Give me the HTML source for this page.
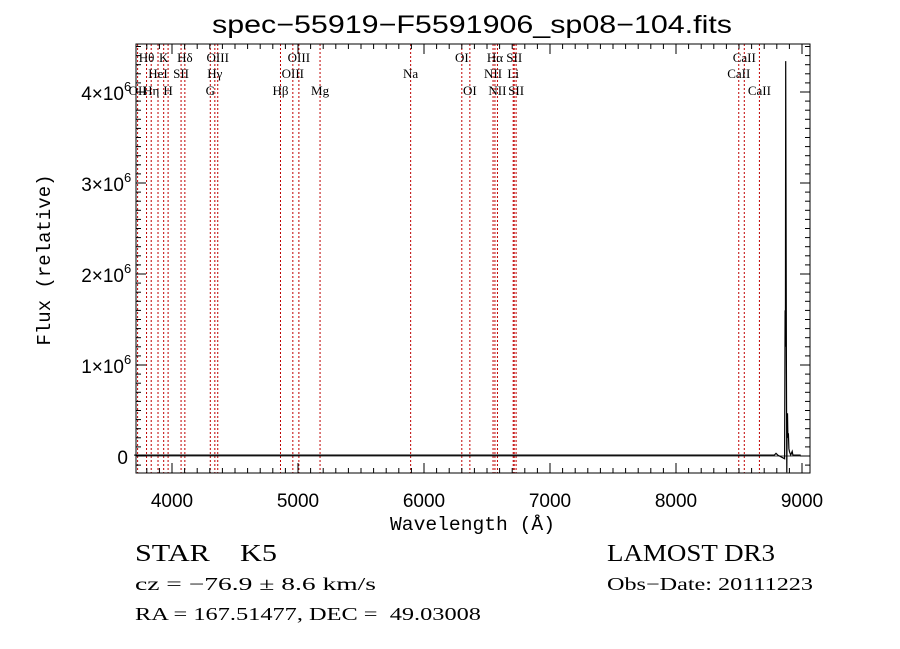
<!DOCTYPE html>
<html><head><meta charset="utf-8"><style>
body{margin:0;background:#fff;}
svg{display:block;}
</style></head><body>
<svg id="chart" width="900" height="649" xmlns="http://www.w3.org/2000/svg">
<rect width="900" height="649" fill="#fff"/>
<text x="212" y="33" textLength="520" lengthAdjust="spacingAndGlyphs" font-family="Liberation Sans, sans-serif" font-size="25">spec−55919−F5591906_sp08−104.fits</text>
<g id="lines"></g>
<g id="axes"></g>
<path id="spec" fill="none" stroke="#000" stroke-width="1.2"/>
<text x="390" y="530" textLength="165" lengthAdjust="spacingAndGlyphs" font-family="Liberation Mono, monospace" font-size="19">Wavelength (Å)</text>
<text transform="translate(50,260) rotate(-90)" font-family="Liberation Mono, monospace" font-size="19" text-anchor="middle">Flux (relative)</text>
<text x="135" y="561" textLength="142" lengthAdjust="spacingAndGlyphs" font-family="Liberation Serif, serif" font-size="24" xml:space="preserve">STAR    K5</text>
<text x="607" y="561" textLength="168" lengthAdjust="spacingAndGlyphs" font-family="Liberation Serif, serif" font-size="24">LAMOST DR3</text>
<text x="135" y="590" textLength="241" lengthAdjust="spacingAndGlyphs" font-family="Liberation Serif, serif" font-size="18" xml:space="preserve">cz = −76.9 ± 8.6 km/s</text>
<text x="607" y="590" textLength="206" lengthAdjust="spacingAndGlyphs" font-family="Liberation Serif, serif" font-size="18">Obs−Date: 20111223</text>
<text x="135" y="620" textLength="346" lengthAdjust="spacingAndGlyphs" font-family="Liberation Serif, serif" font-size="18" xml:space="preserve">RA = 167.51477, DEC =  49.03008</text>
</svg>
<script>
const waves=[3700,3800,4500,5500,6500,7500,8300,8780,8794,8808,8862,8866,8868,8871,8873,8876,8879,8882,8885,8888,8892,8896,8900,8910,8922,8928,8940,8990];
const fluxes=[0.01e6,0.01e6,0.01e6,0.01e6,0.01e6,0.01e6,0.01e6,0.01e6,0.03e6,0.01e6,-0.03e6,1.6e6,1.2e6,4.34e6,3.0e6,1.0e6,-0.18e6,0.3e6,0.47e6,0.2e6,0.25e6,0.08e6,0.05e6,0.01e6,0.05e6,0.01e6,0.01e6,0.01e6];
const xTicks=[4000,5000,6000,7000,8000,9000];
const yTicks=[0,1e6,2e6,3e6,4e6];
const yTickLabels=["0","1×10","2×10","3×10","4×10"];
const lineWaves=[3727,3798,3835,3889,3934,3969,4072,4102,4304,4340,4363,4861,4959,5007,5175,5894,6300,6364,6548,6563,6583,6708,6716,6731,8498,8542,8662];
const lineLabels=[
 ["OII",3727,2],["Hθ",3798,0],["Hη",3835,2],["HeI",3889,1],["K",3934,0],["H",3969,2],["SII",4072,1],["Hδ",4102,0],
 ["G",4304,2],["Hγ",4340,1],["OIII",4363,0],["Hβ",4861,2],["OIII",4959,1],["OIII",5007,0],["Mg",5175,2],["Na",5894,1],
 ["OI",6300,0],["OI",6364,2],["NII",6548,1],["Hα",6563,0],["NII",6583,2],["Li",6708,1],["SII",6716,0],["SII",6731,2],
 ["CaII",8498,1],["CaII",8542,0],["CaII",8662,2]];
const L=136,R=810,T=44,B=473;
const X=w=>172+(w-4000)*0.126;
const Y=f=>456-f/1e6*91;
const NS="http://www.w3.org/2000/svg";
function mk(tag,attrs,parent){const e=document.createElementNS(NS,tag);for(const k in attrs)e.setAttribute(k,attrs[k]);parent.appendChild(e);return e;}
const lines=document.getElementById('lines');
lineWaves.forEach(w=>{
 const l=mk('line',{x1:X(w),x2:X(w),y1:T,y2:B,stroke:'#c00000','stroke-width':1,'stroke-dasharray':'2,2'},lines);
 
 
});
const rowY=[62,78,95];
lineLabels.forEach(([t,w,r])=>{
 const e=mk('text',{x:X(w),y:rowY[r],'font-family':'Liberation Serif, serif','font-size':13,'text-anchor':'middle'},lines);
 e.textContent=t;
 
 
});
const ax=document.getElementById('axes');
const fr=mk('rect',{x:L,y:T,width:R-L,height:B-T,fill:'none',stroke:'#000','stroke-width':1},ax);


for(let w=3800;w<=9000;w+=100){
 const big=w%1000===0;const len=big?10:5;
 mk('line',{x1:X(w),x2:X(w),y1:B,y2:B-len,stroke:'#000'},ax);
 mk('line',{x1:X(w),x2:X(w),y1:T,y2:T+len,stroke:'#000'},ax);
}
xTicks.forEach(w=>{
 const e=mk('text',{x:X(w),y:B+34,'font-family':'Liberation Sans, sans-serif','font-size':19,'text-anchor':'middle'},ax);
 e.textContent=w;
 
 
});
for(let i=-1;i<=45;i++){
 const f=i*1e5;const y=Y(f);if(y<T||y>B)continue;
 const len=i%10===0?10:5;
 mk('line',{x1:L,x2:L+len,y1:y,y2:y,stroke:'#000'},ax);
 mk('line',{x1:R,x2:R-len,y1:y,y2:y,stroke:'#000'},ax);
}
yTicks.forEach((f,i)=>{
 const e=mk('text',{x:f===0?128:(L-12),y:Y(f)+8,'font-family':'Liberation Sans, sans-serif','font-size':19,'text-anchor':'end'},ax);
 e.textContent=yTickLabels[i];
 
 
 if(f!==0){
  const s=mk('text',{x:L-12,y:Y(f)-1,'font-family':'Liberation Sans, sans-serif','font-size':13},ax);
  s.textContent='6';
  
  
 }
});
const base=mk('line',{x1:L,x2:R,y1:Y(0),y2:Y(0),stroke:'#000','stroke-width':0.8},ax);


document.getElementById('spec').setAttribute('d',waves.map((w,i)=>(i?'L':'M')+X(w).toFixed(1)+','+Math.min(B,Y(fluxes[i])).toFixed(1)).join(''));
</script>
</body></html>
